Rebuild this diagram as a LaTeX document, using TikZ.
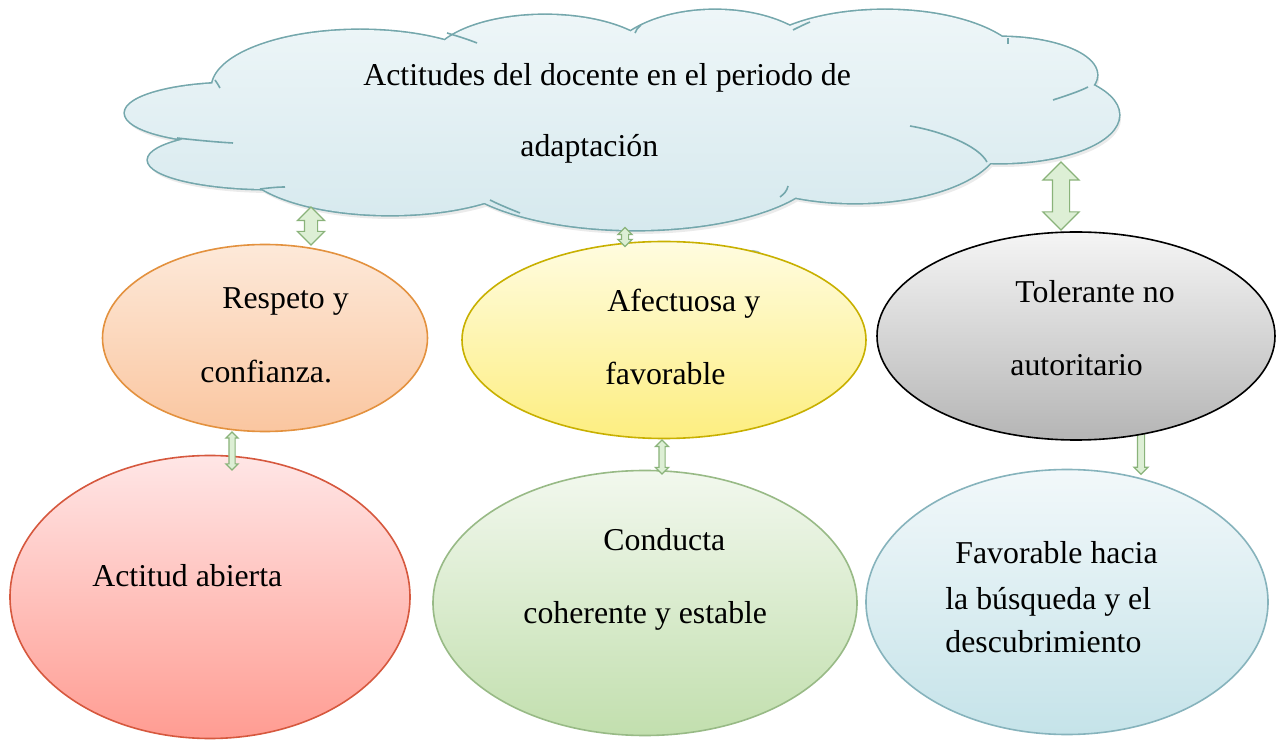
\documentclass[tikz,border=0pt]{standalone}
\usepackage{fontspec}
\setmainfont{Liberation Serif}
\usetikzlibrary{shapes.geometric,shapes.arrows}
\definecolor{cloudB}{HTML}{74A7AC}
\definecolor{cloudT}{HTML}{EEF6F8}
\definecolor{cloudD}{HTML}{D6E9EE}
\definecolor{oB}{HTML}{E3913E}\definecolor{oT}{HTML}{FDE9D9}\definecolor{oD}{HTML}{FAC6A0}
\definecolor{yB}{HTML}{C8B000}\definecolor{yT}{HTML}{FFFCE0}\definecolor{yD}{HTML}{FDEE80}
\definecolor{gB}{HTML}{000000}\definecolor{gT}{HTML}{F5F5F5}\definecolor{gD}{HTML}{B5B5B5}
\definecolor{rB}{HTML}{D6583E}\definecolor{rT}{HTML}{FFE6E6}\definecolor{rD}{HTML}{FF9C92}
\definecolor{grB}{HTML}{98BA86}\definecolor{grT}{HTML}{F2F8EE}\definecolor{grD}{HTML}{C2DFAE}
\definecolor{bB}{HTML}{86B3BC}\definecolor{bT}{HTML}{F2F8FA}\definecolor{bD}{HTML}{C5E3E9}
\definecolor{arB}{HTML}{8AB37A}\definecolor{arF}{HTML}{DDEFD5}
\definecolor{bump}{HTML}{9FBFC4}
\begin{document}
\begin{tikzpicture}[x=0.5pt,y=-0.5pt,
  txt/.style={inner sep=0pt, anchor=base west, font=\fontsize{15.9pt}{19pt}\selectfont},
  oval/.style={ellipse, draw, line width=0.8pt, inner sep=0pt},
  dblarrow/.style={double arrow, rotate=90, draw=arB, fill=arF, line width=0.6pt, inner xsep=0pt, double arrow head indent=0pt},
  sglarrow/.style={single arrow, rotate=-90, draw=arB, fill=arF, line width=0.6pt, inner xsep=0pt, single arrow head indent=0pt},
  crease/.style={draw=cloudB, line width=0.8pt},
  cloudshape/.style={insert path={
    (360,88) ellipse [x radius=148, y radius=58]
    (235,113) ellipse [x radius=110, y radius=30]
    (270,160) ellipse [x radius=122, y radius=29]
    (390,160) ellipse [x radius=150, y radius=55]
    (635,160) ellipse [x radius=190, y radius=70]
    (855,140) ellipse [x radius=145, y radius=63]
    (1000,115) ellipse [x radius=119, y radius=48]
    (1000,75) ellipse [x radius=97, y radius=38]
    (885,70) ellipse [x radius=140, y radius=60]
    (715,70) ellipse [x radius=110, y radius=60]
    (545,65) ellipse [x radius=115, y radius=50]
    (640,120) ellipse [x radius=420, y radius=78]
  }}]
\useasboundingbox[fill=white] (0,0) rectangle (1276,743);
% cloud
\fill[black, opacity=0.08, shift={(2,4)}] [cloudshape];
\draw[cloudB, line width=1.6pt] [cloudshape];
\shade[top color=cloudT, bottom color=cloudD] [cloudshape];
\draw[crease] (177,138) .. controls (195,140) and (215,142) .. (233,143);
\draw[crease] (260,189) .. controls (268,188) and (277,187) .. (285,187);
\draw[crease] (490,200) .. controls (500,205) and (510,209) .. (520,213);
\draw[crease] (447,33) .. controls (457,36) and (467,39) .. (477,43);
\draw[crease] (635,33) .. controls (636,30) and (638,27) .. (641,25);
\draw[crease] (793,30) .. controls (799,27) and (805,24) .. (810,22);
\draw[crease] (780,197) .. controls (784,194) and (787,191) .. (788,186);
\draw[crease] (1008,38) -- (1008,44);
\draw[crease] (1053,100) .. controls (1065,96) and (1078,92) .. (1088,87);
\draw[crease] (910,126) .. controls (940,131) and (978,145) .. (987,162);
\draw[crease] (215,80) .. controls (217,83) and (219,86) .. (220,88);
\node (cloud) at (620,120) [minimum width=500pt, minimum height=100pt, inner sep=0pt] {};
\node[txt] (ct1) at (363,86) {Actitudes del docente en el periodo de};
\node[txt] (ct2) at (520,157) {adaptación};
% hidden bump
\fill[bump] (753,263) circle [radius=13];
% arrow partly hidden behind the grey oval
\node[sglarrow, minimum height=23.5pt, inner ysep=1.5pt, single arrow head extend=1.75pt] (a6) at (1141,449) {};
% ovals
\node[oval, draw=oB, top color=oT, bottom color=oD, minimum width=162.5pt, minimum height=93.5pt] (e1) at (265,338) {};
\node[oval, draw=yB, top color=yT, bottom color=yD, minimum width=202pt, minimum height=98.5pt] (e2) at (664,340) {};
\node[oval, draw=gB, top color=gT, bottom color=gD, minimum width=199pt, minimum height=104pt] (e3) at (1076,336) {};
\node[oval, draw=rB, top color=rT, bottom color=rD, minimum width=200pt, minimum height=141.5pt] (e4) at (210,597) {};
\node[oval, draw=grB, top color=grT, bottom color=grD, minimum width=212pt, minimum height=132.5pt] (e5) at (645,603) {};
\node[oval, draw=bB, top color=bT, bottom color=bD, minimum width=201pt, minimum height=132.5pt] (e6) at (1067,602) {};
% texts
\node[txt] (t1a) at (222,309) {Respeto y};
\node[txt] (t1b) at (200,383) {confianza.};
\node[txt] (t2a) at (607,312) {Afectuosa y};
\node[txt] (t2b) at (605,385) {favorable};
\node[txt] (t3a) at (1015,303) {Tolerante no};
\node[txt] (t3b) at (1010,376) {autoritario};
\node[txt] (t4a) at (92,587) {Actitud abierta};
\node[txt] (t5a) at (603,551) {Conducta};
\node[txt] (t5b) at (523,624) {coherente y estable};
\node[txt] (t6a) at (955,563) {Favorable hacia};
\node[txt] (t6b) at (945,610) {la búsqueda y el};
\node[txt] (t6c) at (945,652) {descubrimiento};
% block arrows
\node[dblarrow, minimum height=19pt, inner ysep=3pt, double arrow head extend=3.5pt] (a1) at (311,226) {};
\node[dblarrow, minimum height=9.5pt, inner ysep=1.5pt, double arrow head extend=1.75pt] (a2) at (625,237) {};
\node[dblarrow, minimum height=34pt, inner ysep=4pt, double arrow head extend=4.75pt] (a3) at (1061,196) {};
\node[dblarrow, minimum height=19pt, inner ysep=1.25pt, double arrow head extend=1.5pt] (a4) at (232,451) {};
\node[dblarrow, minimum height=17pt, inner ysep=1.25pt, double arrow head extend=1.75pt] (a5) at (662,457) {};
\end{tikzpicture}
\end{document}
